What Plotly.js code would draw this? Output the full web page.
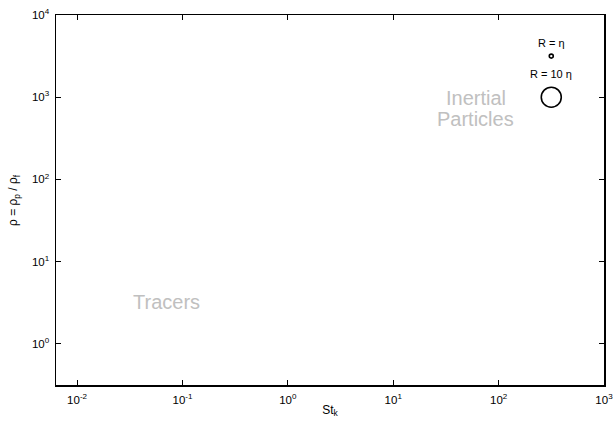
<!DOCTYPE html>
<html>
<head>
<meta charset="utf-8">
<script src="https://cdn.plot.ly/plotly-3.0.1.min.js"></script>
<style>html,body{margin:0;padding:0;background:#fff;}#chart{width:616px;height:423px;}</style>
</head>
<body>
<div id="chart"></div>
<script>
// Particle markers
const particleLabels = ["R = η", "R = 10 η"];
const particleSt = [316, 316];
const particleRho = [3162, 1000];

// Region labels
const regionLabels = ["Inertial", "Particles", "Tracers"];
const regionSt = [61, 61, 0.07];
const regionRho = [984, 547, 3.2];

// Axis ticks and titles
const xTickVals = [0.01, 0.1, 1, 10, 100, 1000];
const xTickText = ["10<sup>-2</sup>", "10<sup>-1</sup>", "10<sup>0</sup>", "10<sup>1</sup>", "10<sup>2</sup>", "10<sup>3</sup>"];
const yTickVals = [1, 10, 100, 1000, 10000];
const yTickText = ["10<sup>0</sup>", "10<sup>1</sup>", "10<sup>2</sup>", "10<sup>3</sup>", "10<sup>4</sup>"];
const xTitle = "St<sub>k</sub>";
const yTitle = "ρ = ρ<sub>p</sub> / ρ<sub>f</sub>";

const font = "Liberation Sans, Arial, sans-serif";

const traces = [
  {
    x: [particleSt[0]], y: [particleRho[0]], mode: "markers", type: "scatter",
    marker: {symbol: "circle-open", size: 4, color: "#000", line: {width: 1.6, color: "#000"}},
    showlegend: false, hoverinfo: "skip"
  },
  {
    x: [particleSt[1]], y: [particleRho[1]], mode: "markers", type: "scatter",
    marker: {symbol: "circle-open", size: 20, color: "#000", line: {width: 1.6, color: "#000"}},
    showlegend: false, hoverinfo: "skip"
  }
];

const annotations = [
  {x: Math.log10(particleSt[0]), y: Math.log10(particleRho[0]), text: particleLabels[0], showarrow: false, yshift: 13, font: {family: font, size: 11, color: "#000"}},
  {x: Math.log10(particleSt[1]), y: Math.log10(particleRho[1]), text: particleLabels[1], showarrow: false, yshift: 23, font: {family: font, size: 11, color: "#000"}},
  {xref: "paper", yref: "paper", x: 0, y: 0.5, xanchor: "center", yanchor: "middle", xshift: -42, text: yTitle, textangle: -90, showarrow: false, font: {family: font, size: 12, color: "#000"}}
];
for (let i = 0; i < regionLabels.length; i++) {
  annotations.push({x: Math.log10(regionSt[i]), y: Math.log10(regionRho[i]), text: regionLabels[i], showarrow: false, font: {family: font, size: 20, color: "#c0c0c0"}});
}

const layout = {
  width: 616, height: 423,
  margin: {l: 56, r: 12, t: 15, b: 38},
  paper_bgcolor: "#fff", plot_bgcolor: "#fff",
  font: {family: font, size: 11, color: "#000"},
  showlegend: false,
  xaxis: {
    type: "log", range: [-2.2, 3],
    tickvals: xTickVals, ticktext: xTickText,
    ticks: "inside", ticklen: 5, tickwidth: 1, tickcolor: "#000",
    showline: true, linecolor: "#000", linewidth: 1.5, mirror: "allticks",
    showgrid: false, zeroline: false, ticklabelstandoff: 4,
    tickfont: {family: font, size: 11.5, color: "#000"},
    title: {text: xTitle, font: {family: font, size: 12, color: "#000"}, standoff: 0}
  },
  yaxis: {
    type: "log", range: [-0.5, 4],
    tickvals: yTickVals, ticktext: yTickText,
    ticks: "inside", ticklen: 5, tickwidth: 1, tickcolor: "#000",
    showline: true, linecolor: "#000", linewidth: 1.5, mirror: "allticks",
    showgrid: false, zeroline: false, ticklabelstandoff: 3,
    tickfont: {family: font, size: 11.5, color: "#000"}
  },
  annotations: annotations
};

Plotly.newPlot("chart", traces, layout, {displayModeBar: false, staticPlot: true});
</script>
</body>
</html>
